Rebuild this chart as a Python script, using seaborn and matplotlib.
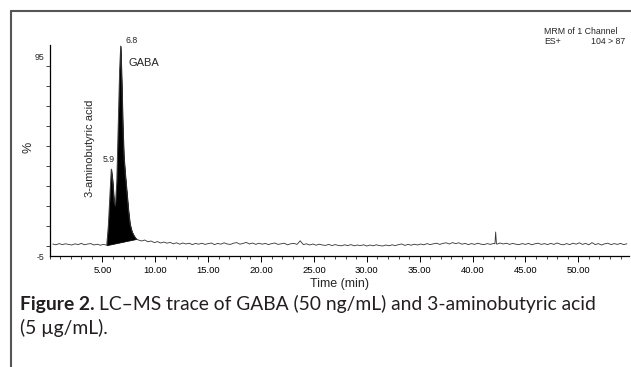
import numpy as np
import pandas as pd
import matplotlib
matplotlib.use('Agg')
import matplotlib.pyplot as plt
import seaborn as sns
from matplotlib.lines import Line2D
from matplotlib.ticker import MultipleLocator, FixedLocator, FormatStrFormatter

# baseline before the peaks (min, %)
pre_time = np.arange(0.3, 5.2, 0.3)
pre_val = [1.0, 0.6, 1.2, 0.7, 1.1, 0.8, 0.5, 1.1, 0.7, 1.3, 0.6, 1.0, 1.2, 0.5, 0.9, 0.4, 0.8]

# 3-aminobutyric acid (5.9) + GABA (6.8)
peak_time = [5.40, 5.55, 5.70, 5.83, 5.95, 6.10, 6.22, 6.35, 6.50, 6.62, 6.72,
             6.82, 6.92, 7.02, 7.15, 7.30, 7.45, 7.60, 7.80, 8.00, 8.20]
peak_val = [0.4, 10, 25, 38.5, 33, 22, 20, 32, 62, 88, 100,
            82, 60, 45, 36, 27, 18, 11, 7, 5, 3.5]

# baseline after the peaks
post_time = np.arange(8.4, 54.65, 0.3)
post_val = [3.0, 2.5, 3.0, 2.1, 2.5, 1.7, 2.2, 1.5, 2.0, 1.4,
            1.8, 1.1, 1.6, 0.9, 1.5, 1.0, 1.4, 0.7, 1.3, 0.9,
            1.4, 0.8, 1.2, 1.5, 0.7, 1.3, 0.9, 1.6, 1.0, 0.8,
            1.4, 1.7, 0.9, 1.3, 1.8, 1.0, 1.5, 0.8, 1.4, 0.9,
            1.3, 0.7, 1.2, 1.5, 0.8, 1.1, 1.4, 0.6, 1.1, 1.3,
            0.8, 2.6, 0.7, 1.1, 0.5, 1.0, 0.4, 0.9, 0.5, 0.3,
            0.8, 0.2, 0.7, 0.3, 0.1, 0.6, 0.2, 0.7, 0.1, 0.5,
            0.2, 0.6, 0.0, 0.5, 0.1, 0.6, 0.2, 0.0, 0.5, 0.1,
            0.6, 0.2, 0.7, 1.0, 0.3, 0.8, 0.4, 0.9, 0.5, 1.0,
            0.6, 1.2, 0.7, 1.1, 1.4, 0.8, 1.3, 1.6, 1.0, 1.7,
            1.2, 1.6, 0.9, 1.3, 0.7, 1.2, 0.8, 1.4, 0.9, 0.7,
            1.2, 0.8, 1.3, 0.9, 1.5, 1.0, 1.4, 0.8, 1.3, 0.9,
            0.7, 1.2, 0.8, 1.3, 0.6, 1.1, 1.4, 0.8, 1.2, 0.7,
            1.3, 0.8, 1.5, 0.9, 0.6, 1.2, 0.7, 1.4, 0.9, 1.6,
            0.8, 1.3, 0.6, 1.7, 0.7, 1.2, 0.5, 1.1, 1.4, 0.7,
            1.2, 0.8, 1.3, 0.7, 1.1]

# small spike near 42 min
spike_time = [42.12, 42.19, 42.26]
spike_val = [1.1, 7.0, 1.2]

time = np.concatenate([pre_time, peak_time, post_time[:len(post_val)], spike_time])
val = np.concatenate([pre_val, peak_val, post_val, spike_val])
order = np.argsort(time)
df = pd.DataFrame({'time': time[order], 'pct': val[order]})

sns.set_style('ticks')
plt.rcParams['font.family'] = ['Liberation Sans', 'DejaVu Sans']
plt.rcParams['axes.unicode_minus'] = False

fig = plt.figure(figsize=(6.31, 3.67), dpi=100)
ax = fig.add_axes([49.6 / 631, 1 - 256 / 367, (629 - 49.6) / 631, (256 - 45) / 367])

sns.lineplot(data=df, x='time', y='pct', ax=ax, color='#333333', linewidth=0.6,
             estimator=None, sort=True)

# integrated area, drawn down to the straight integration baseline
pt = np.array(peak_time)
pv = np.array(peak_val)
base = np.interp(pt, [pt[0], pt[-1]], [pv[0], pv[-1]])
ax.fill_between(pt, pv, base, color='black', linewidth=0.5)

ax.set_xlim(0, 54.8)
ax.set_ylim(-5, 100.5)
sns.despine(ax=ax)
for s in ['left', 'bottom']:
    ax.spines[s].set_linewidth(0.9)
    ax.spines[s].set_color('black')

ax.xaxis.set_major_locator(FixedLocator([5, 10, 15, 20, 25, 30, 35, 40, 45, 50]))
ax.xaxis.set_minor_locator(MultipleLocator(1))
ax.xaxis.set_major_formatter(FormatStrFormatter('%.2f'))
ax.yaxis.set_major_locator(FixedLocator([-5, 95]))
ax.yaxis.set_minor_locator(FixedLocator([0, 10, 20, 30, 40, 50, 60, 70, 80, 90]))
ax.tick_params(axis='x', which='major', length=4, width=0.7, labelsize=6.8, pad=3, colors='black')
ax.tick_params(axis='x', which='minor', length=2.5, width=0.6)
ax.tick_params(axis='y', which='major', length=0, labelsize=6.3, pad=4)
ax.tick_params(axis='y', which='minor', length=3, width=0.6)
ax.set_xlabel('')
ax.set_ylabel('')

# peak annotations
ax.text(7.14, 102.6, '6.8', fontsize=6.3, ha='left', va='center', clip_on=False)
ax.text(7.5, 91.6, 'GABA', fontsize=8, ha='left', va='center')
ax.text(5.62, 43.1, '5.9', fontsize=6.3, ha='center', va='center')
ax.text(3.8, 48.6, '3-aminobutyric acid', fontsize=8, rotation=90, ha='center', va='center')

W, H = 631, 367
fig.text(29 / W, 1 - 147 / H, '%', fontsize=9, rotation=90, ha='center', va='center')
fig.text(339 / W, 1 - 284 / H, 'Time (min)', fontsize=9, ha='center', va='center')
fig.text(544 / W, 1 - 31 / H, 'MRM of 1 Channel', fontsize=6.3, ha='left', va='center')
fig.text(544 / W, 1 - 41 / H, 'ES+', fontsize=6.3, ha='left', va='center')
fig.text(625 / W, 1 - 42 / H, '104 > 87', fontsize=6.3, ha='right', va='center')

# frame around the figure panel
fig.add_artist(Line2D([11 / W, 1], [1 - 11 / H, 1 - 11 / H], color='#555555', linewidth=1.5))
fig.add_artist(Line2D([11 / W, 11 / W], [0, 1 - 11 / H], color='#555555', linewidth=1.5))

# caption: bold label then plain text
cap_font = ['Lato', 'DejaVu Sans']
cap_size = 13.9
t1 = fig.text(20 / W, 1 - 310 / H, 'Figure 2.', fontsize=cap_size, fontweight='bold',
              family=cap_font, color='#231f20', ha='left', va='baseline')
fig.canvas.draw()
bb = t1.get_window_extent()
fig.text((bb.x1 + 4) / W, 1 - 310 / H, 'LC\u2013MS trace of GABA (50 ng/mL) and 3-aminobutyric acid',
         fontsize=cap_size, family=cap_font, color='#231f20', ha='left', va='baseline')
fig.text(20 / W, 1 - 334 / H, '(5 \u00b5g/mL).', fontsize=cap_size, family=cap_font,
         color='#231f20', ha='left', va='baseline')

fig.savefig('out.png', dpi=100)
